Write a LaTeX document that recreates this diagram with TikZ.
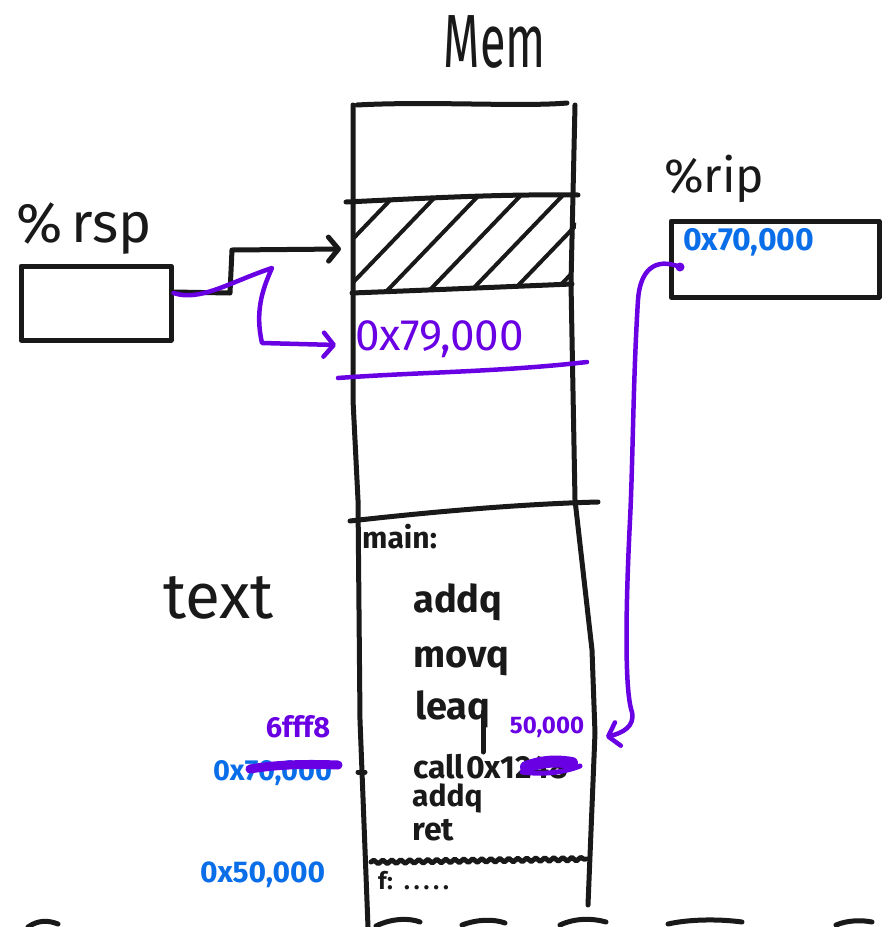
\documentclass[tikz,border=0pt]{standalone}
\usepackage{fontspec}
\setmainfont{Fira Sans}
\usetikzlibrary{arrows.meta,decorations.pathmorphing}
\definecolor{ink}{RGB}{25,25,25}
\definecolor{penblue}{RGB}{10,110,232}
\definecolor{penpurple}{RGB}{105,0,228}
\newcommand{\fs}[1]{\fontsize{#1}{#1}\selectfont}
\newcommand{\fsb}[1]{\fontsize{#1}{#1}\selectfont\bfseries}
\begin{document}
\begin{tikzpicture}[x=1pt,y=-1pt,
  inkline/.style={draw=ink,line width=5pt,line cap=round,line join=round},
  hatchline/.style={draw=ink,line width=4pt,line cap=round},
  purpleline/.style={draw=penpurple,line width=4.5pt,line cap=round,line join=round},
  barb/.style={-{Straight Barb[length=10pt,width=24pt,line cap=round,line join=round]}},
  regbox/.style={draw=ink,line width=5pt,line join=round,rectangle,inner sep=0pt},
  hand/.style={inner sep=0pt,text=ink},
  bluetxt/.style={inner sep=0pt,text=penblue},
  purpletxt/.style={inner sep=0pt,text=penpurple}]
\useasboundingbox (0,0) rectangle (888,927);

% title
\node[hand,font=\fs{52}] (mem) at (495,42) {\scalebox{0.9}[1.45]{Mem}};

% memory column
\draw[inkline] (357,105) .. controls (430,101) and (520,107) .. (567,103);
\draw[inkline] (353,105) -- (353,400) -- (358,500) -- (360,720) -- (368,927);
\draw[inkline] (575,105) -- (571,283) -- (575,500) -- (592,650) -- (595,733) -- (588,905);
\draw[inkline] (346,202) .. controls (430,198) and (500,194) .. (578,195);
\draw[inkline] (352,293) .. controls (430,290) and (500,287) .. (572,284);
\draw[inkline] (350,521) .. controls (430,512) and (520,504) .. (598,502);
\draw[inkline,decorate,decoration={snake,amplitude=1.8pt,segment length=9pt}] (371,862) -- (586,859);
\draw[inkline] (358,772) -- (365,772);

% hatching
\begin{scope}
  \clip (353,200) -- (578,195) -- (572,284) -- (353,292) -- cycle;
  \foreach \x in {258,298,340,382,424,466,508,550} {
    \draw[hatchline] (\x,296) -- (\x+100,192);
  }
\end{scope}

% bottom broken edge
\draw[inkline] (28,927) .. controls (38,920) and (48,920) .. (58,924);
\draw[inkline] (376,926) .. controls (392,918) and (410,918) .. (420,922);
\draw[inkline] (462,925) .. controls (478,919) and (494,919) .. (505,923);
\draw[inkline] (560,925) .. controls (575,918) and (592,918) .. (606,922);
\draw[inkline] (668,924) .. controls (690,919) and (720,919) .. (742,922);
\draw[inkline] (836,925) .. controls (848,920) and (862,920) .. (872,922);

% %rsp register
\node[hand,font=\fs{56},anchor=base west] (rsplbl) at (16,242) {\%\,rsp};
\node[regbox,minimum width=150pt,minimum height=74pt] (rsp) at (96,303) {};

% %rip register
\node[hand,font=\fs{48},anchor=base west] (riplbl) at (664,192) {\%rip};
\node[regbox,minimum width=208pt,minimum height=76pt] (rip) at (775,259) {};
\node[bluetxt,font=\fsb{32},anchor=base west] (ripval) at (683,250) {0x70,000};

% stack contents
\node[purpletxt,font=\fs{44},anchor=base west] (newtopval) at (355,350) {0x79,000};
\draw[purpleline] (338,378) .. controls (420,372) and (500,372) .. (587,362);

% connector targets
\coordinate (stackslot) at (341,249);
\coordinate (newtop) at (336,345);
\coordinate (ripout) at (680,267);
\coordinate (callsite) at (606,737);

% old %rsp arrow
\draw[inkline,barb] ([yshift=11pt]rsp.east) -- (230,293) -- (232,250) -- (stackslot);
% new %rsp arrow
\draw[purpleline,barb] ([yshift=10pt]rsp.east) .. controls (200,302) and (230,282) .. (272,268)
   .. controls (262,290) and (255,312) .. (262,343) -- (newtop);

% %rip arrow
\fill[penpurple] (ripout) circle (4.5pt);
\draw[purpleline,barb] (ripout) .. controls (655,257) and (640,270) .. (638,300)
   .. controls (633,380) and (633,460) .. (630,520)
   .. controls (626,600) and (624,690) .. (632,712)
   .. controls (635,727) and (622,733) .. (callsite);

% text segment
\node[hand,font=\fs{64},anchor=base west] (textlbl) at (163,618) {text};
\node[hand,font=\fsb{30},anchor=base west] (mainlbl) at (362,548) {main:};
\node[hand,font=\fsb{38},anchor=base west] (i1) at (413,612) {addq};
\node[hand,font=\fsb{38},anchor=base west] (i2) at (413,667) {movq};
\node[hand,font=\fsb{38},anchor=base west] (i3) at (415,719) {leaq};
\node[hand,font=\fsb{32},anchor=base west] (i4) at (413,778) {call\hspace{2pt}0x1248};
\draw[inkline] (483,712) -- (483,752);
\node[purpletxt,font=\fsb{24}] (target) at (547,727) {50,000};
\draw[penpurple,line width=12pt,line cap=round] (526,767) .. controls (545,760) and (560,761) .. (572,763);
\draw[penpurple,line width=5pt,line cap=round] (522,772) .. controls (545,775) and (565,772) .. (580,766);
\node[hand,font=\fsb{30},anchor=base west] (i5) at (412,806) {addq};
\node[hand,font=\fsb{32},anchor=base west] (i6) at (412,840) {ret};
\node[hand,font=\fsb{24},anchor=base west] (flbl) at (378,889) {f:\ \ .\,.\,.\,.\,.};

% addresses on the left
\node[purpletxt,font=\fsb{29}] (retaddr) at (298,727) {6fff8};
\node[bluetxt,font=\fsb{29},anchor=base west] (oldsp) at (213,780) {0x70,000};
\draw[penpurple,line width=9pt,line cap=round] (250,769) .. controls (280,764) and (310,764) .. (338,765);
\node[bluetxt,font=\fsb{30},anchor=base west] (fiftyk) at (200,882) {0x50,000};
\end{tikzpicture}
\end{document}
